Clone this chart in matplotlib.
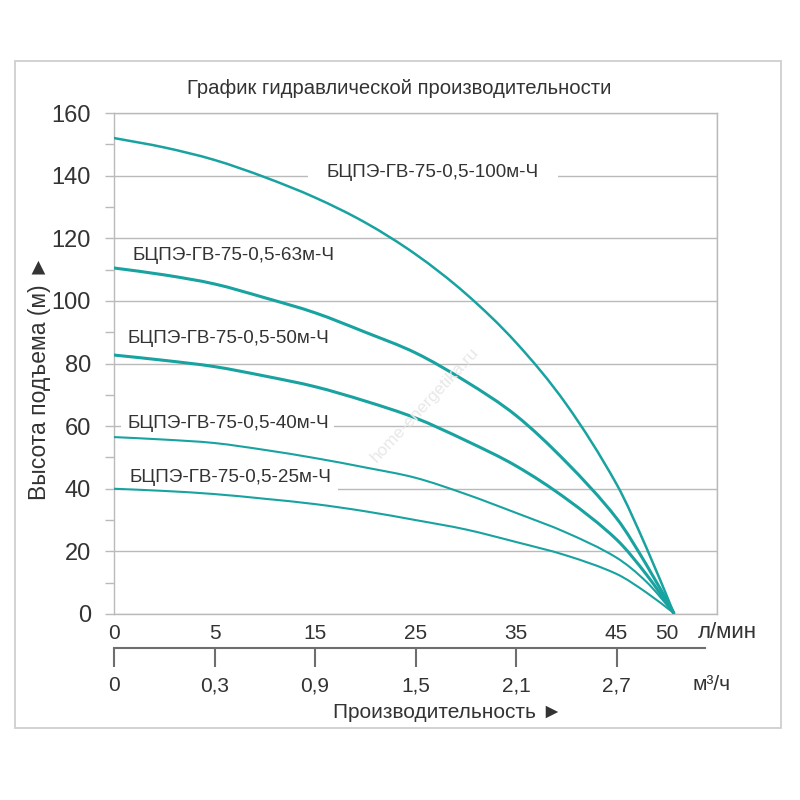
import numpy as np
import matplotlib
matplotlib.use("Agg")
import matplotlib.pyplot as plt
from matplotlib.patches import Rectangle, PathPatch
from matplotlib.path import Path

plt.rcParams['font.family'] = ['Liberation Sans', 'DejaVu Sans']

# ---------------- data ----------------
flow_lpm = [0, 2.5, 5, 10, 15, 20, 25, 30, 35, 40, 45, 48, 50.7]
head_100 = [152, 149, 145, 139.5, 133, 125, 114.9, 102.3, 86.7, 67, 41.5, 21, 0.3]
head_63 = [110.5, 108.3, 105.4, 101, 96.2, 90, 83.4, 74.3, 63.4, 48.5, 30.6, 15.6, 0.3]
head_50 = [82.7, 81, 79, 76, 72.6, 68, 62.6, 55.4, 47.3, 36.8, 23.8, 12.5, 0.3]
head_40 = [56.5, 55.7, 54.6, 52.4, 49.8, 46.8, 43.5, 38.3, 32.3, 26, 18, 10.2, 0.3]
head_25 = [40, 39.3, 38.3, 36.8, 35.1, 32.8, 30, 27, 23, 18.7, 12.8, 6.8, 0.3]

series_names = ['БЦПЭ-ГВ-75-0,5-100м-Ч', 'БЦПЭ-ГВ-75-0,5-63м-Ч', 'БЦПЭ-ГВ-75-0,5-50м-Ч',
                'БЦПЭ-ГВ-75-0,5-40м-Ч', 'БЦПЭ-ГВ-75-0,5-25м-Ч']
series_heads = [head_100, head_63, head_50, head_40, head_25]

lpm_ticks = [0, 5, 15, 25, 35, 45, 50]
lpm_tick_labels = ['0', '5', '15', '25', '35', '45', '50']
lpm_grid = [0, 5, 15, 25, 35, 45, 55]
m3h_ticks = [0, 0.3, 0.9, 1.5, 2.1, 2.7]
m3h_tick_labels = ['0', '0,3', '0,9', '1,5', '2,1', '2,7']
head_ticks = [0, 20, 40, 60, 80, 100, 120, 140, 160]
head_minor = [10, 30, 50, 70, 90, 110, 130, 150]

# ---------------- scale (0-5 then 10 per grid cell) ----------------
_Q = [-100, 0, 5, 1000]
_P = [-20, 0, 1, 100.5]
def fwd(q):
    return np.interp(q, _Q, _P)
def inv(p):
    return np.interp(p, _P, _Q)


def smooth_path(xs, ys):
    """Smooth Bezier path through the read points (drawn by the library)."""
    p = fwd(np.asarray(xs, float))
    h = np.asarray(ys, float)
    n = len(p)
    m = np.zeros(n)
    for i in range(n):
        if i == 0:
            m[i] = (h[1] - h[0]) / (p[1] - p[0])
        elif i == n - 1:
            m[i] = (h[-1] - h[-2]) / (p[-1] - p[-2])
        else:
            m[i] = (h[i + 1] - h[i - 1]) / (p[i + 1] - p[i - 1])
    verts = [(p[0], h[0])]
    codes = [Path.MOVETO]
    for i in range(n - 1):
        dx = p[i + 1] - p[i]
        verts += [(p[i] + dx / 3, h[i] + m[i] * dx / 3),
                  (p[i + 1] - dx / 3, h[i + 1] - m[i + 1] * dx / 3),
                  (p[i + 1], h[i + 1])]
        codes += [Path.CURVE4] * 3
    v = np.array(verts)
    v[:, 0] = inv(v[:, 0])
    return Path(v, codes)


teal = '#18a3a0'
gridc = '#bababa'
txtc = '#333333'

fig = plt.figure(figsize=(8, 8), dpi=100)

# outer frame
fig.patches.append(Rectangle((15/800, 1-728/800), (781-15)/800, (728-61)/800,
                             transform=fig.transFigure, fill=False, ec='#cfcfcf', lw=1.3))

ax = fig.add_axes([114/800, 1-614/800, 603/800, 501/800])
ax.set_xscale('function', functions=(fwd, inv))
ax.set_xlim(0, 55)
ax.set_ylim(0, 160)

widths = [1.8, 2.2, 2.2, 1.5, 1.5]
for h, lw in zip(series_heads, widths):
    ax.add_patch(PathPatch(smooth_path(flow_lpm, h), fc='none', ec=teal, lw=lw,
                           capstyle='round', joinstyle='miter', zorder=3))

# ticks & grid
ax.set_yticks(head_ticks)
ax.set_yticks(head_minor, minor=True)
ax.set_xticks(lpm_ticks)
ax.set_xticklabels(lpm_tick_labels)
ax.set_xticks(lpm_grid, minor=True)
ax.tick_params(axis='y', which='both', direction='out', length=6.5, width=1,
               color=gridc, labelsize=17, pad=10, labelcolor=txtc)
ax.tick_params(axis='x', which='both', length=0, labelsize=15, pad=7, labelcolor=txtc)
ax.grid(True, axis='y', which='major', color=gridc, lw=1)
ax.grid(True, axis='x', which='minor', color=gridc, lw=1)
ax.set_axisbelow(True)
for s in ax.spines.values():
    s.set_color(gridc)
    s.set_linewidth(1)

# curve labels
label_pos = [(0.353, 0.882, 1.0), (0.0315, 0.7146, 0.3), (0.0232, 0.549, 0.3),
             (0.0216, 0.381, 0.3), (0.0265, 0.2715, 0.3)]
for name, (xf, yf, pad) in zip(series_names, label_pos):
    ax.text(xf, yf, name, transform=ax.transAxes, ha='left', va='center',
            fontsize=13.6, color=txtc, zorder=2,
            bbox=dict(boxstyle=f'square,pad={pad}', fc='white', ec='none'))

# watermark
fig.text(425/800, 1-405/800, 'home-energetika.ru', rotation=47, ha='center', va='center',
         fontsize=12.5, color='#e8e8e8', zorder=1)

# secondary axis (m3/h)
ax2 = fig.add_axes([114/800, 1-648/800, (705-114)/800, 0.0001])
ax2.set_xscale('function', functions=(fwd, inv))
ax2.set_xlim(0, inv(5.88))
ax2.set_xticks([v * 1000 / 60 for v in m3h_ticks])
ax2.set_xticklabels(m3h_tick_labels)
ax2.set_yticks([])
for k in ['left', 'right', 'top']:
    ax2.spines[k].set_visible(False)
ax2.spines['bottom'].set_color('#6e6e6e')
ax2.spines['bottom'].set_linewidth(1.5)
ax2.tick_params(axis='x', direction='out', length=13.5, width=1.5, color='#6e6e6e',
                labelsize=15, pad=7, labelcolor=txtc)
ax2.patch.set_visible(False)

# texts
fig.text(399/800, 1-88/800, 'График гидравлической производительности', ha='center',
         va='center', fontsize=14.6, color=txtc)
fig.text(698/800, 1-633/800, 'л/мин', ha='left', va='center', fontsize=16, color=txtc)
fig.text(693/800, 1-685/800, 'м³/ч', ha='left', va='center', fontsize=15, color=txtc)
fig.text(448/800, 1-712/800, 'Производительность ►', ha='center', va='center',
         fontsize=15, color=txtc)
fig.text(40/800, 1-378/800, 'Высота подъема (м) ►', rotation=90, ha='center',
         va='center', fontsize=16.5, color=txtc)

fig.savefig('out.png', dpi=100, facecolor='white')
